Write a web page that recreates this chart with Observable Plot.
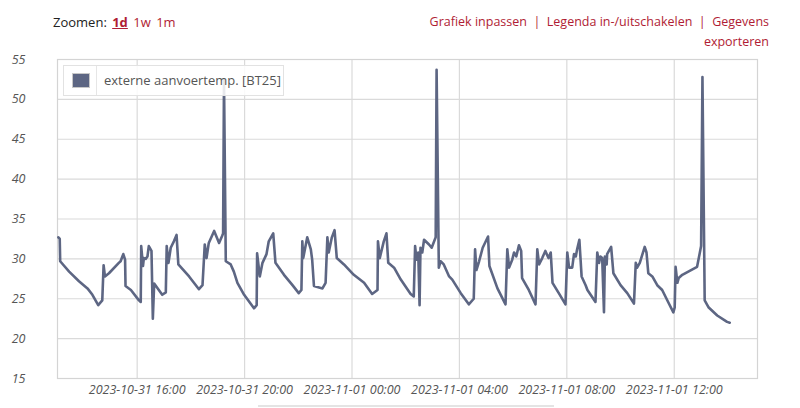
<!DOCTYPE html>
<html>
<head>
<meta charset="utf-8">
<script src="https://cdn.jsdelivr.net/npm/d3@7"></script>
<script src="https://cdn.jsdelivr.net/npm/@observablehq/plot@0.6"></script>
<style>
  body { margin: 0; background: #fff; font-family: "Open Sans", sans-serif; }
  #wrap { position: relative; width: 800px; height: 408px; overflow: hidden; }
  #head { height: 50px; position: relative; }
  #zoom { position: absolute; left: 53px; top: 12px; font-size: 13px; color: #222; line-height: 20px; }
  #zoom a { color: #b01c34; text-decoration: none; margin-left: 2px; }
  #zoom a.sel { font-weight: bold; text-decoration: underline; }
  #links { position: absolute; right: 31px; top: 12px; font-size: 12.5px; color: #b01c34; text-align: right; line-height: 20px; white-space: nowrap; }
  #legend { position: absolute; left: 63px; top: 65px; width: 219px; height: 29px; border: 1px solid #e2e2e2; background: rgba(255,255,255,0.85); font-size: 13px; color: #555; }
  #legend .sw { position: absolute; left: 8px; top: 7px; width: 16px; height: 13px; background: #5d6683; border: 1px solid #c8c8c8; }
  #legend .div { position: absolute; left: 32px; top: 0; width: 1px; height: 29px; background: #e6e6e6; }
  #legend .tx { position: absolute; left: 40px; top: 5px; }
  #scroll { position: absolute; left: 258px; top: 405px; width: 296px; height: 2px; background: #e4e4e4; }
</style>
</head>
<body>
<div id="wrap">
  <div id="head">
    <div id="zoom">Zoomen: <a class="sel">1d</a> <a>1w</a> <a>1m</a></div>
    <div id="links">Grafiek inpassen&nbsp; |&nbsp; Legenda in-/uitschakelen&nbsp; |&nbsp; Gegevens<br>exporteren</div>
  </div>
  <div id="chart"></div>
  <div id="legend"><div class="sw"></div><div class="div"></div><div class="tx">externe aanvoertemp. [BT25]</div></div>
  <div id="scroll"></div>
</div>
<script>
const seriesName = "externe aanvoertemp. [BT25]";
const times = [
"2023-10-31 13:04","2023-10-31 13:07","2023-10-31 13:08","2023-10-31 13:28","2023-10-31 13:50","2023-10-31 14:09","2023-10-31 14:20","2023-10-31 14:33","2023-10-31 14:42","2023-10-31 14:45",
"2023-10-31 14:48","2023-10-31 14:57","2023-10-31 15:19","2023-10-31 15:23","2023-10-31 15:29","2023-10-31 15:33","2023-10-31 15:34","2023-10-31 15:46","2023-10-31 16:04","2023-10-31 16:08",
"2023-10-31 16:09","2023-10-31 16:13","2023-10-31 16:15","2023-10-31 16:19","2023-10-31 16:23","2023-10-31 16:26","2023-10-31 16:32","2023-10-31 16:35","2023-10-31 16:38","2023-10-31 16:56",
"2023-10-31 17:04","2023-10-31 17:06","2023-10-31 17:10","2023-10-31 17:15","2023-10-31 17:22","2023-10-31 17:28","2023-10-31 17:32","2023-10-31 17:56","2023-10-31 18:18","2023-10-31 18:26",
"2023-10-31 18:31","2023-10-31 18:35","2023-10-31 18:40","2023-10-31 18:52","2023-10-31 19:03","2023-10-31 19:10","2023-10-31 19:12","2023-10-31 19:14","2023-10-31 19:18","2023-10-31 19:29",
"2023-10-31 19:36","2023-10-31 19:44","2023-10-31 19:59","2023-10-31 20:21","2023-10-31 20:27","2023-10-31 20:28","2023-10-31 20:34","2023-10-31 20:40","2023-10-31 20:49","2023-10-31 20:54",
"2023-10-31 21:04","2023-10-31 21:09","2023-10-31 21:28","2023-10-31 21:47","2023-10-31 22:01","2023-10-31 22:07","2023-10-31 22:09","2023-10-31 22:11","2023-10-31 22:20","2023-10-31 22:28",
"2023-10-31 22:31","2023-10-31 22:35","2023-10-31 22:54","2023-10-31 23:01","2023-10-31 23:05","2023-10-31 23:08","2023-10-31 23:15","2023-10-31 23:21","2023-10-31 23:26","2023-10-31 23:42",
"2023-11-01 00:04","2023-11-01 00:27","2023-11-01 00:45","2023-11-01 00:57","2023-11-01 00:58","2023-11-01 01:02","2023-11-01 01:11","2023-11-01 01:17","2023-11-01 01:21","2023-11-01 01:34",
"2023-11-01 01:49","2023-11-01 02:11","2023-11-01 02:18","2023-11-01 02:21","2023-11-01 02:24","2023-11-01 02:28","2023-11-01 02:31","2023-11-01 02:33","2023-11-01 02:37","2023-11-01 02:41",
"2023-11-01 02:52","2023-11-01 02:58","2023-11-01 03:07","2023-11-01 03:09","2023-11-01 03:14","2023-11-01 03:18","2023-11-01 03:25","2023-11-01 03:37","2023-11-01 03:44","2023-11-01 04:03",
"2023-11-01 04:21","2023-11-01 04:32","2023-11-01 04:35","2023-11-01 04:38","2023-11-01 04:44","2023-11-01 04:52","2023-11-01 05:04","2023-11-01 05:07","2023-11-01 05:25","2023-11-01 05:43",
"2023-11-01 05:47","2023-11-01 05:51","2023-11-01 05:58","2023-11-01 06:02","2023-11-01 06:07","2023-11-01 06:13","2023-11-01 06:18","2023-11-01 06:20","2023-11-01 06:35","2023-11-01 06:50",
"2023-11-01 06:54","2023-11-01 06:58","2023-11-01 07:05","2023-11-01 07:12","2023-11-01 07:19","2023-11-01 07:24","2023-11-01 07:28","2023-11-01 07:42","2023-11-01 07:57","2023-11-01 08:01",
"2023-11-01 08:05","2023-11-01 08:12","2023-11-01 08:16","2023-11-01 08:20","2023-11-01 08:23","2023-11-01 08:28","2023-11-01 08:33","2023-11-01 08:42","2023-11-01 08:46","2023-11-01 09:04",
"2023-11-01 09:08","2023-11-01 09:12","2023-11-01 09:15","2023-11-01 09:19","2023-11-01 09:23","2023-11-01 09:25","2023-11-01 09:29","2023-11-01 09:30","2023-11-01 09:34","2023-11-01 09:39",
"2023-11-01 09:44","2023-11-01 10:00","2023-11-01 10:15","2023-11-01 10:30","2023-11-01 10:34","2023-11-01 10:37","2023-11-01 10:43","2023-11-01 10:49","2023-11-01 10:54","2023-11-01 10:58",
"2023-11-01 11:02","2023-11-01 11:11","2023-11-01 11:22","2023-11-01 11:33","2023-11-01 11:48","2023-11-01 11:58","2023-11-01 12:01","2023-11-01 12:03","2023-11-01 12:07","2023-11-01 12:10",
"2023-11-01 12:18","2023-11-01 12:51","2023-11-01 13:00","2023-11-01 13:03","2023-11-01 13:08","2023-11-01 13:17","2023-11-01 13:36","2023-11-01 13:58","2023-11-01 14:04"
];
const temps = [
32.7,32.5,29.7,28.4,27.2,26.3,25.5,24.2,24.8,29.2,
27.8,28.2,29.5,29.7,30.6,29.9,26.6,26.1,24.8,24.6,
31.6,29.1,30.1,30.0,30.3,31.6,31.0,22.5,26.9,25.5,
25.8,31.6,29.5,31.4,32.2,33.0,29.3,27.8,26.2,26.7,
31.8,30.1,32.0,33.5,32.0,32.9,33.2,52.5,29.7,29.3,
28.4,27.0,25.5,23.8,24.2,30.7,27.8,29.5,30.6,32.2,
33.2,29.5,28.0,26.7,25.7,26.1,32.2,30.1,32.7,31.2,
29.9,26.6,26.3,27.0,32.7,30.8,32.7,33.6,30.1,29.3,
28.0,27.0,25.6,26.1,32.2,30.1,32.2,33.2,29.5,28.9,
27.4,25.6,25.3,31.6,29.9,30.8,24.2,31.4,30.8,32.4,
31.8,31.4,32.7,53.7,28.9,29.7,29.3,27.8,27.4,25.7,
24.3,25.0,31.2,28.6,29.7,31.4,32.8,29.1,26.3,24.3,
31.2,28.9,29.9,30.8,30.3,31.7,31.0,27.6,26.1,24.3,
31.2,29.3,30.1,31.0,30.1,30.8,27.0,25.7,24.3,30.8,
28.9,28.9,30.6,30.3,31.2,32.4,27.8,26.7,26.1,24.6,
30.8,29.5,30.3,30.1,23.3,30.3,29.3,30.6,31.0,31.5,
28.2,26.7,25.7,24.4,29.5,28.9,29.5,30.6,31.5,30.8,
28.2,27.8,26.7,26.1,24.4,23.3,23.9,29.0,27.0,27.6,
28.0,29.0,31.6,52.8,24.8,23.9,22.9,22.1,22.0
];
const yTicks = [15, 20, 25, 30, 35, 40, 45, 50, 55];
const xTickLabels = ["2023-10-31 16:00","2023-10-31 20:00","2023-11-01 00:00","2023-11-01 04:00","2023-11-01 08:00","2023-11-01 12:00"];
const xDomain = ["2023-10-31 13:02","2023-11-01 15:06"];

const parse = d3.utcParse("%Y-%m-%d %H:%M");
const fmt = d3.utcFormat("%Y-%m-%d %H:%M");
const data = times.map((t, i) => ({t: parse(t), v: temps[i], s: seriesName}));
const xTicks = xTickLabels.map(parse);

const chart = Plot.plot({
  width: 800,
  height: 358,
  marginTop: 9,
  marginBottom: 30,
  marginLeft: 57,
  marginRight: 43,
  style: {fontFamily: "'Open Sans', sans-serif", fontSize: "12.5px", background: "transparent"},
  x: {type: "utc", domain: xDomain.map(parse)},
  y: {domain: [15, 55]},
  marks: [
    Plot.gridX(xTicks, {stroke: "#dadada", strokeOpacity: 1, strokeWidth: 1.2}),
    Plot.gridY(yTicks, {stroke: "#dadada", strokeOpacity: 1, strokeWidth: 1.2}),
    Plot.frame({stroke: "#d4d4d4", strokeWidth: 1.2}),
    Plot.axisX(xTicks, {tickSize: 0, tickPadding: 7, tickFormat: fmt, fontStyle: "italic", fill: "#555", label: null}),
    Plot.axisY(yTicks, {tickSize: 0, tickPadding: 32, fontStyle: "italic", fill: "#555", label: null}),
    Plot.line(data, {x: "t", y: "v", stroke: "#5d6683", strokeWidth: 2.6, strokeLinejoin: "round", strokeLinecap: "round"})
  ]
});
document.getElementById("chart").appendChild(chart);
</script>
</body>
</html>
